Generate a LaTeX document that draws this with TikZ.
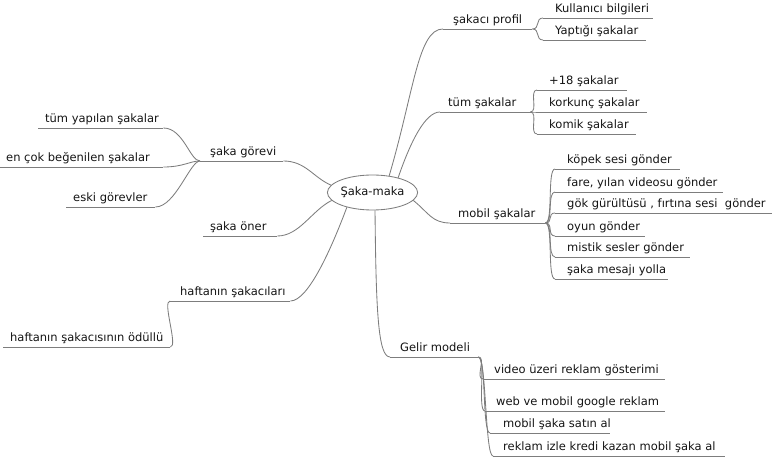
\documentclass[tikz,border=0pt]{standalone}
\usepackage{fontspec}
\setmainfont{DejaVu Sans}
\usetikzlibrary{shapes.geometric}
\definecolor{linegray}{RGB}{125,125,125}
\definecolor{textgray}{RGB}{20,20,20}
\tikzset{
  conn/.style={draw=linegray, line width=0.85bp},
  topic/.style={anchor=south west, inner sep=0pt, text height=9bp, text depth=5bp,
    font=\fontsize{11.5bp}{13bp}\selectfont, text=textgray},
  rootnode/.style={ellipse, draw=linegray, line width=0.85bp, fill=white, inner sep=0pt,
    minimum width=89bp, minimum height=35bp, font=\fontsize{11.5bp}{13bp}\selectfont, text=textgray},
}
% name, x, y(underline), underline length, text indent, text
\newcommand\mmtopic[6]{%
  \node[topic] (#1) at (#2,#3) {\makebox[#4bp][l]{\hspace*{#5bp}#6}};
  \draw[conn] (#1.south west) -- (#1.south east);}
\begin{document}
\begin{tikzpicture}[x=1bp,y=-1bp]
\useasboundingbox (0,0) rectangle (772,457);
\node[rootnode] (root) at (372.5,192.5) {Şaka-maka};
% right side
\mmtopic{sp}{443}{29}{89}{10}{şakacı profil}
\mmtopic{kb}{543}{18}{110}{12}{Kullanıcı bilgileri}
\mmtopic{ys}{543}{40}{103}{12}{Yaptığı şakalar}
\mmtopic{ts}{440}{112}{90}{8}{tüm şakalar}
\mmtopic{pe}{537}{90}{90}{12}{+18 şakalar}
\mmtopic{ko}{537}{112}{110}{12}{korkunç şakalar}
\mmtopic{km}{537}{134}{99}{12}{komik şakalar}
\mmtopic{ms}{450}{223}{95}{8}{mobil şakalar}
\mmtopic{kp}{555}{169}{125}{12}{köpek sesi gönder}
\mmtopic{fy}{555}{192}{168}{12}{fare, yılan videosu gönder}
\mmtopic{gg}{555}{213}{217}{12}{gök gürültüsü , fırtına sesi\ \ gönder}
\mmtopic{oy}{555}{236}{90}{12}{oyun gönder}
\mmtopic{mi}{555}{257}{135}{12}{mistik sesler gönder}
\mmtopic{sm}{555}{279}{113}{12}{şaka mesajı yolla}
\mmtopic{gm}{390}{357}{88}{10}{Gelir modeli}
\mmtopic{vu}{483}{379}{182}{11}{video üzeri reklam gösterimi}
\mmtopic{wm}{485}{411}{180}{11}{web ve mobil google reklam}
\mmtopic{sa}{490}{433}{120}{13}{mobil şaka satın al}
\mmtopic{ri}{493}{456}{232}{10}{reklam izle kredi kazan mobil şaka al}
% left side
\mmtopic{sg}{200}{161}{83}{10}{şaka görevi}
\mmtopic{ty}{38}{128}{125}{7}{tüm yapılan şakalar}
\mmtopic{ec}{0}{167}{163}{6}{en çok beğenilen şakalar}
\mmtopic{eg}{66}{207}{89}{7}{eski görevler}
\mmtopic{so}{203}{236}{74}{7}{şaka öner}
\mmtopic{hs}{170}{301}{120}{10}{haftanın şakacıları}
\mmtopic{ho}{3}{347}{167}{7}{haftanın şakacısının ödüllü}
% root connectors
\draw[conn] (root.45) .. controls +(25,-85) and +(-25,0) .. (sp.south west);
\draw[conn] (root.30) .. controls +(12,-35) and +(-15,0) .. (ts.south west);
\draw[conn] (root.-11) .. controls +(15,12) and +(-18,0) .. (ms.south west);
\draw[conn] (root.-82) .. controls +(1,100) and +(-12,0) .. (gm.south west);
\draw[conn] (root.170) .. controls +(-18,-8) and +(22,0) .. (sg.south east);
\draw[conn] (root.191) .. controls +(-20,10) and +(22,0) .. (so.south east);
\draw[conn] (root.210) .. controls +(-15,40) and +(18,0) .. (hs.south east);
% right children
\foreach \p/\c in {sp/kb, sp/ys, ts/pe, ts/ko, ts/km, ms/kp, ms/fy, ms/gg, ms/oy, ms/mi, ms/sm, gm/vu, gm/wm, gm/sa, gm/ri}
  \draw[conn] (\p.south east) .. controls +(8,0) and +(-8,0) .. (\c.south west);
% left children
\foreach \c in {ty, ec, eg}
  \draw[conn] (sg.south west) .. controls +(-10,0) and +(20,0) .. (\c.south east);
\draw[conn] (hs.south west) .. controls +(-8,0) and +(8,0) .. (ho.south east);
\end{tikzpicture}
\end{document}
